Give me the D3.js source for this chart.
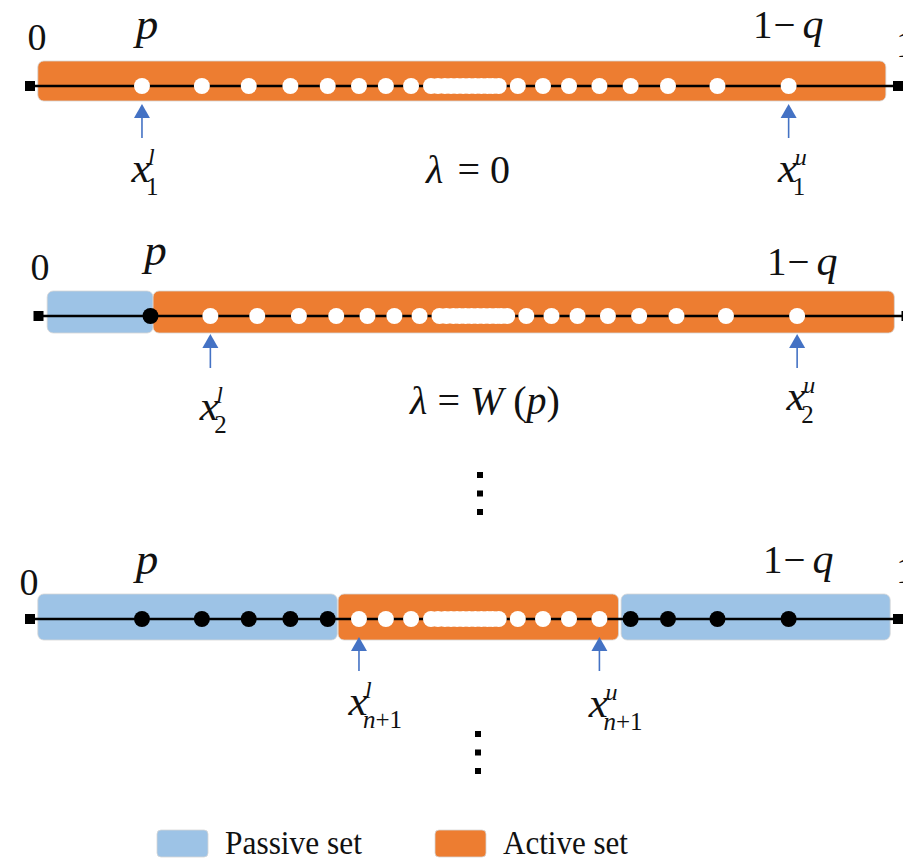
<!DOCTYPE html>
<html>
<head>
<meta charset="utf-8">
<script src="https://cdn.jsdelivr.net/npm/d3@7"></script>
<style>
  html, body { margin: 0; padding: 0; background: #fff; }
  svg { display: block; }
</style>
</head>
<body>
<svg id="chart" width="903" height="862" font-family="'Liberation Serif', 'DejaVu Serif', 'Times New Roman', serif"></svg>
<script>
// ---------------- data ----------------
// candidate points on [0,1] (same set in each stage)
const dotPositions = [0.129, 0.198, 0.252, 0.300, 0.343, 0.379, 0.410, 0.439,
  0.462, 0.470, 0.478, 0.485, 0.492, 0.499, 0.506, 0.513, 0.520, 0.527, 0.533, 0.540,
  0.562, 0.591, 0.621, 0.656, 0.692, 0.735, 0.792, 0.874];
const pValue = 0.129;
const oneMinusQValue = 0.874;
const activeSets = [[[0.009, 0.986]], [[0.132, 0.986]], [[0.355, 0.678]]];
const passiveSets = [[], [[0.010, 0.132]], [[0.009, 0.354], [0.681, 0.991]]];
const lowerIndex = [0, 1, 5];
const upperIndex = [27, 27, 23];
const stageSubscripts = ["1", "2", "n+1"];
const lambdaLabels = [["λ", " = 0"], ["λ", " = ", "W", " (", "p", ")"], null];
const showOneLabel = [true, false, true];
const legendLabels = ["Passive set", "Active set"];
const colors = { passive: "#9DC3E6", active: "#ED7D31", arrow: "#4472C4" };

// ---------------- layout ----------------
const rowLayout = [
  { shift: 0,   lineY: 86,  rectTop: 61,  rectH: 40, zeroDx: 7,   zeroY: 50,  pY: 39,  qDx: -0.5, qY: 38,  oneY: 57,  labY: [182, 182], lamY: 183, lamX: 468 },
  { shift: 8.5, lineY: 316, rectTop: 291, rectH: 42, zeroDx: 1.5, zeroY: 280, pY: 265, qDx: 5,    qY: 275, oneY: 305, labY: [420, 410], lamY: 414, lamX: 485 },
  { shift: 0,   lineY: 619, rectTop: 594, rectH: 46, zeroDx: -1,  zeroY: 595, pY: 574, qDx: 9.5,  qY: 573, oneY: 583, labY: [715, 717], lamY: 0,   lamX: 0 }
];

const svg = d3.select("#chart");
const INK = "#111";

function inAny(v, sets) { return sets.some(s => v >= s[0] && v <= s[1]); }

rowLayout.forEach((L, i) => {
  const x = d3.scaleLinear().domain([0, 1]).range([30 + L.shift, 898 + L.shift]);
  const g = svg.append("g");

  // set rectangles
  g.selectAll("rect.passive").data(passiveSets[i]).join("rect")
    .attr("class", "passive")
    .attr("x", d => x(d[0])).attr("width", d => x(d[1]) - x(d[0]))
    .attr("y", L.rectTop).attr("height", L.rectH)
    .attr("rx", 6).attr("fill", colors.passive)
    .attr("stroke", "#d6d6d6").attr("stroke-width", 0.8);
  g.selectAll("rect.active").data(activeSets[i]).join("rect")
    .attr("class", "active")
    .attr("x", d => x(d[0])).attr("width", d => x(d[1]) - x(d[0]))
    .attr("y", L.rectTop).attr("height", L.rectH)
    .attr("rx", 6).attr("fill", colors.active)
    .attr("stroke", "#d6d6d6").attr("stroke-width", 0.8);

  // axis line and end squares
  g.append("line").attr("x1", x(0)).attr("x2", x(1))
    .attr("y1", L.lineY).attr("y2", L.lineY)
    .attr("stroke", "#000").attr("stroke-width", 2.6);
  g.selectAll("rect.end").data([0, 1]).join("rect")
    .attr("class", "end")
    .attr("x", d => x(d) - 5).attr("y", L.lineY - 5)
    .attr("width", 10).attr("height", 10).attr("fill", "#000");

  // points
  g.selectAll("circle").data(dotPositions).join("circle")
    .attr("cx", d => x(d)).attr("cy", L.lineY).attr("r", 8)
    .attr("fill", d => inAny(d, passiveSets[i]) ? "#000" : "#fff");

  // top labels
  g.append("text").attr("x", x(0) + L.zeroDx).attr("y", L.zeroY)
    .attr("text-anchor", "middle").attr("font-size", 38).attr("fill", INK).text("0");
  g.append("text").attr("x", x(pValue) + 5).attr("y", L.pY)
    .attr("text-anchor", "middle").attr("font-size", 45).attr("fill", INK)
    .attr("font-style", "italic").text("p");
  const qt = g.append("text").attr("x", x(oneMinusQValue) + L.qDx).attr("y", L.qY)
    .attr("text-anchor", "middle").attr("font-size", 39).attr("fill", INK);
  qt.append("tspan").text("1");
  qt.append("tspan").attr("dx", 1).text("−");
  qt.append("tspan").attr("dx", 7).attr("font-style", "italic").attr("font-size", 42).text("q");
  if (showOneLabel[i]) {
    g.append("text").attr("x", x(1) - 2).attr("y", L.oneY)
      .attr("text-anchor", "start").attr("font-size", 38).attr("fill", INK).text("1");
  }

  // arrows to x^l and x^u
  [lowerIndex[i], upperIndex[i]].forEach((idx, k) => {
    const cx = x(dotPositions[idx]);
    const tip = L.lineY + 18;
    g.append("line").attr("x1", cx).attr("x2", cx)
      .attr("y1", tip + 10).attr("y2", L.lineY + 52)
      .attr("stroke", colors.arrow).attr("stroke-width", 1.6);
    g.append("path")
      .attr("d", d3.line()([[cx, tip], [cx - 8, tip + 14], [cx + 8, tip + 14]]) + "Z")
      .attr("fill", colors.arrow);

    const by = L.labY[k];
    g.append("text").attr("x", cx - 1).attr("y", by)
      .attr("text-anchor", "middle").attr("font-size", 43).attr("fill", INK)
      .attr("font-style", "italic").text("x");
    g.append("text").attr("x", cx + 6).attr("y", by - 17)
      .attr("font-size", 24).attr("font-style", "italic").attr("fill", INK)
      .text(k === 0 ? "l" : "u");
    const sub = g.append("text").attr("x", cx + 4).attr("y", by + 13)
      .attr("font-size", 25).attr("fill", INK);
    const s = stageSubscripts[i];
    if (s === "n+1") {
      sub.append("tspan").attr("font-style", "italic").text("n");
      sub.append("tspan").text("+1");
    } else {
      sub.text(s);
    }
  });

  // lambda label
  if (lambdaLabels[i]) {
    const lt = g.append("text").attr("x", L.lamX).attr("y", L.lamY)
      .attr("text-anchor", "middle").attr("font-size", 40).attr("fill", INK);
    lambdaLabels[i].forEach((part, j) => {
      const it = ["λ", "W", "p"].includes(part);
      const t = lt.append("tspan").attr("font-style", it ? "italic" : "normal").text(part);
      if (i === 0 && j === 1) t.attr("dx", 4);
    });
  }
});

// vertical ellipses
[[480, 475], [478, 734]].forEach(([cx, y0]) => {
  svg.append("g").selectAll("rect").data([0, 1, 2]).join("rect")
    .attr("x", cx - 3).attr("y", d => y0 - 3 + d * 18.5)
    .attr("width", 6).attr("height", 6).attr("fill", "#000");
});

// legend
const legendSwatchX = [157, 435];
const legendTextX = [225, 503];
const legendTextW = [137, 125];
const legendColors = [colors.passive, colors.active];
legendLabels.forEach((lab, i) => {
  svg.append("rect").attr("x", legendSwatchX[i]).attr("y", 830)
    .attr("width", 51).attr("height", 27).attr("rx", 4)
    .attr("fill", legendColors[i]).attr("stroke", "#d6d6d6").attr("stroke-width", 0.8);
  svg.append("text").attr("x", legendTextX[i]).attr("y", 854)
    .attr("font-size", 34).attr("fill", INK).attr("textLength", legendTextW[i])
    .attr("lengthAdjust", "spacingAndGlyphs").text(lab);
});
</script>
</body>
</html>
